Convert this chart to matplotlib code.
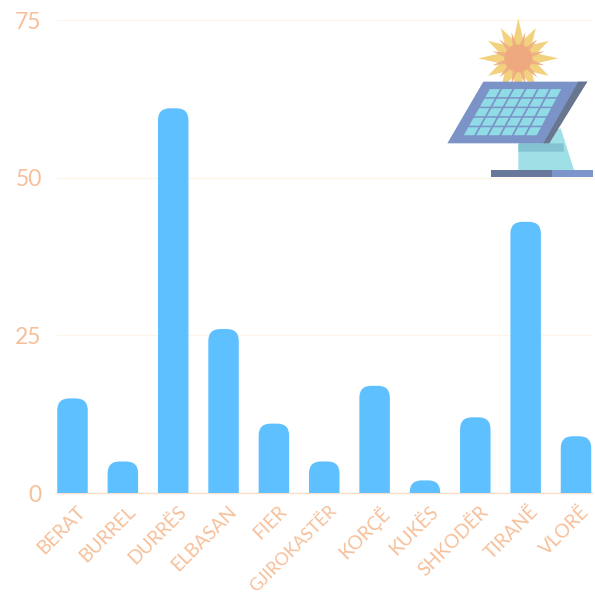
import numpy as np
import matplotlib
matplotlib.use("Agg")
import matplotlib.pyplot as plt
from matplotlib.path import Path
from matplotlib.patches import PathPatch, Polygon, Circle, Rectangle

cities = ["BERAT", "BURREL", "DURRËS", "ELBASAN", "FIER", "GJIROKASTËR",
          "KORÇË", "KUKËS", "SHKODËR", "TIRANË", "VLORË"]
values = [15, 5, 61, 26, 11, 5, 17, 2, 12, 43, 9]
y_ticks = [0, 25, 50, 75]

BAR = "#5fc0ff"
TXT = "#f6c09b"
plt.rcParams["font.family"] = ["Lato", "DejaVu Sans"]

W = H = 595
fig = plt.figure(figsize=(5.95, 5.95), dpi=100, facecolor="white")
L, R, T, B = 57, 592, 20, 493
ax = fig.add_axes([L / W, 1 - B / H, (R - L) / W, (B - T) / H])
ax.set_ylim(0, 75)
band = 50.35
ax.set_xlim((L - 72.5) / band, (R - 72.5) / band)
bw = 30.5 / band
rx = 12 / band
ry = 12 * 75 / (B - T)

def top_round(x, v):
    l, r = x - bw / 2, x + bw / 2
    h = min(ry, v)
    verts = [(l, 0), (l, v - h), (l, v), (l + rx, v), (r - rx, v), (r, v), (r, v - h), (r, 0), (l, 0)]
    codes = [Path.MOVETO, Path.LINETO, Path.CURVE3, Path.CURVE3, Path.LINETO,
             Path.CURVE3, Path.CURVE3, Path.LINETO, Path.CLOSEPOLY]
    return Path(verts, codes)

xs = np.arange(len(cities))
ax.bar(xs, values, width=bw, color="none", linewidth=0)
for x, v in zip(xs, values):
    ax.add_patch(PathPatch(top_round(x, v), facecolor=BAR, edgecolor="none", zorder=3))

for s in ["top", "right", "left"]:
    ax.spines[s].set_visible(False)
ax.spines["bottom"].set_color("#fbdfcc")
ax.spines["bottom"].set_linewidth(1.0)
ax.set_yticks(y_ticks)
ax.yaxis.grid(True, color="#fdf5e6", linewidth=1.0, zorder=0)
ax.set_axisbelow(True)
ax.tick_params(axis="y", length=0, pad=11, labelsize=16.5, labelcolor=TXT)
ax.tick_params(axis="x", length=0, pad=7, labelsize=13.8, labelcolor=TXT)
ax.set_xticks(xs)
ax.set_xticklabels(cities, rotation=45, ha="right", rotation_mode="anchor")
for lab in ax.get_xticklabels():
    lab.set_transform(lab.get_transform() + matplotlib.transforms.ScaledTranslation(4 / 100, 0, fig.dpi_scale_trans))
    if lab.get_text() == "GJIROKASTËR":
        lab.set_fontsize(12.6)

# solar panel illustration, overlay in pixel space
ov = fig.add_axes([0, 0, 1, 1], facecolor="none")
ov.set_xlim(0, W)
ov.set_ylim(H, 0)
ov.axis("off")

def z(x, y):
    return (430 + x / 3, y / 3)

cx, cy = z(265, 175)
n = 12
pts = []
for i in range(2 * n):
    a = np.pi * i / n - np.pi / 2
    r = (40 if i % 6 == 0 else 35) if i % 2 == 0 else 19
    pts.append((cx + r * np.cos(a), cy + r * np.sin(a)))
ov.add_patch(Polygon(pts, closed=True, fc="#f2d27e", ec="none"))
for i in range(n):
    a = 2 * np.pi * (i + 0.5) / n - np.pi / 2
    d = np.radians(9)
    ov.add_patch(Polygon([(cx + 14 * np.cos(a - d), cy + 14 * np.sin(a - d)),
                          (cx + 27 * np.cos(a), cy + 27 * np.sin(a)),
                          (cx + 14 * np.cos(a + d), cy + 14 * np.sin(a + d))],
                         fc="#efb085", ec="none"))
ov.add_patch(Circle((cx, cy), 14, fc="#efa97f", ec="none"))

ov.add_patch(Polygon([z(265, 432), z(392, 385), z(432, 510), z(265, 510)], fc="#9fe0e6", ec="none"))
ov.add_patch(Polygon([z(265, 430), z(400, 430), z(403, 455), z(265, 455)], fc="#84c4d2", ec="none"))
ov.add_patch(Rectangle(z(182, 510), 183 / 3, 22 / 3, fc="#67789a", ec="none"))
ov.add_patch(Rectangle(z(365, 510), 125 / 3, 22 / 3, fc="#7c95cb", ec="none"))

tl, tr, br, bl = np.array([160, 245.]), np.array([472, 245.]), np.array([345, 430.]), np.array([52, 430.])
ov.add_patch(Polygon([z(*tl), z(*tr), z(*br), z(*bl)], fc="#7b93c6", ec="none"))
ov.add_patch(Polygon([z(445, 245), z(472, 245), z(358, 430), z(340, 430)], fc="#687690", ec="none"))

rows, cols = 5, 6
def panel(u, v):
    left = np.array([178, 265.]) * (1 - v) + np.array([97, 408.]) * v
    right = np.array([398, 265.]) * (1 - v) + np.array([322, 408.]) * v
    return z(*(left * (1 - u) + right * u))
g = 0.08
for i in range(rows):
    for j in range(cols):
        u0, u1 = (j + g) / cols, (j + 1 - g) / cols
        v0, v1 = (i + g) / rows, (i + 1 - g) / rows
        ov.add_patch(Polygon([panel(u0, v0), panel(u1, v0), panel(u1, v1), panel(u0, v1)], fc="#8fdbe6", ec="none"))

fig.savefig("out.png", dpi=100)
